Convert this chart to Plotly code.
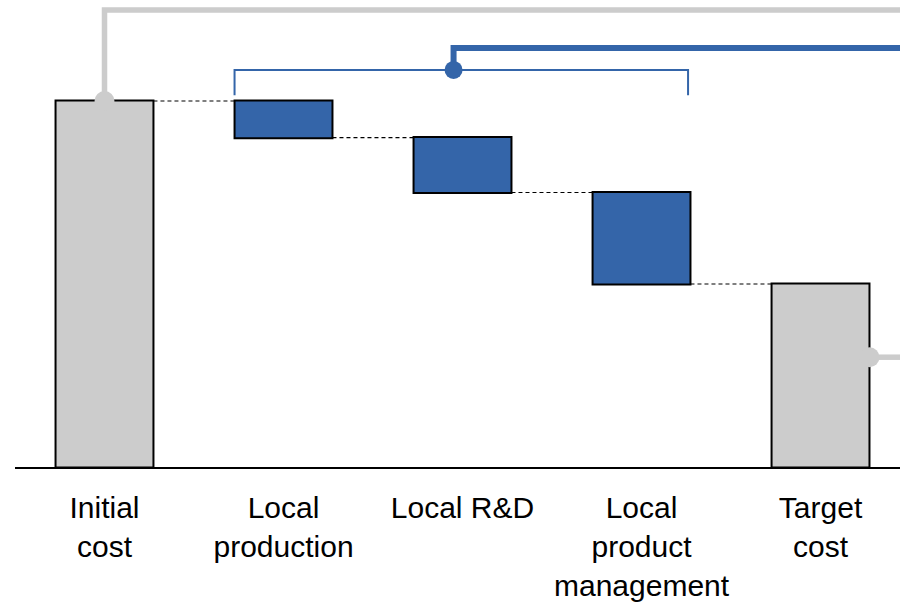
import plotly.graph_objects as go

# ---- data ----
categories = ["Initial<br>cost", "Local<br>production", "Local R&D",
              "Local<br>product<br>management", "Target<br>cost"]
values = [100, -10, -15, -25, 0]
measures = ["absolute", "relative", "relative", "relative", "total"]

GREY = "#CCCCCC"
BLUE = "#3465A9"
FONT = "Liberation Sans, Arial, sans-serif"

x_pos = list(range(len(categories)))
bar_w = 0.547
x_min, x_max = -0.5, 4.444
y_max = 127.6

initial = values[0]
target = initial + sum(values[1:4])

fig = go.Figure()
fig.add_trace(go.Waterfall(
    x=x_pos, y=values, measure=measures, width=[bar_w] * len(x_pos),
    increasing=dict(marker=dict(color=GREY, line=dict(color="black", width=2))),
    decreasing=dict(marker=dict(color=BLUE, line=dict(color="black", width=2))),
    totals=dict(marker=dict(color=GREY, line=dict(color="black", width=2))),
    connector=dict(mode="between", line=dict(color="black", width=1.2, dash="4px,3px")),
    textinfo="none", hoverinfo="skip", showlegend=False,
))

# callout geometry (derived from data)
top_grey = initial + 24.9
top_blue = initial + 14.5
bracket_y = initial + 8.5
bracket_tick = initial + 1.6
br_l = 1 - bar_w / 2
br_r = 3 + 0.26
dot_x = 1.95
target_dot_y = target * 0.6

shapes = [
    dict(type="path", path=f"M 0,{initial} L 0,{top_grey} L {x_max},{top_grey}",
         line=dict(color=GREY, width=5.5), layer="below"),
    dict(type="path", path=f"M {br_l},{bracket_tick} L {br_l},{bracket_y} L {br_r},{bracket_y} L {br_r},{bracket_tick}",
         line=dict(color=BLUE, width=2), layer="below"),
    dict(type="path", path=f"M {dot_x},{bracket_y} L {dot_x},{top_blue} L {x_max},{top_blue}",
         line=dict(color=BLUE, width=6), layer="below"),
    dict(type="line", x0=4 + bar_w / 2, x1=x_max, y0=target_dot_y, y1=target_dot_y,
         line=dict(color=GREY, width=5.5), layer="below"),
]

fig.add_trace(go.Scatter(
    x=[0, 4 + bar_w / 2], y=[initial, target_dot_y], mode="markers",
    marker=dict(color=GREY, size=20), cliponaxis=False,
    hoverinfo="skip", showlegend=False))
fig.add_trace(go.Scatter(
    x=[dot_x], y=[bracket_y], mode="markers",
    marker=dict(color=BLUE, size=18), cliponaxis=False,
    hoverinfo="skip", showlegend=False))

fig.update_layout(
    width=900, height=603,
    margin=dict(l=15, r=0, t=0, b=136),
    paper_bgcolor="white", plot_bgcolor="white",
    shapes=shapes,
    font=dict(family=FONT, color="black", size=30),
    xaxis=dict(range=[x_min, x_max], tickvals=x_pos, ticktext=categories,
               showgrid=False, zeroline=False, showline=True, linecolor="black",
               linewidth=2, ticks="", ticklabelstandoff=13, automargin=False,
               tickfont=dict(family=FONT, size=30, color="black")),
    yaxis=dict(range=[0, y_max], visible=False, showgrid=False, zeroline=False,
               automargin=False),
)

fig.write_html(
    "out.html",
    config={"displayModeBar": False},
    post_script=("document.body.style.margin='0';"
                 "document.body.style.overflow='hidden';"
                 "document.documentElement.style.overflow='hidden';"),
)
